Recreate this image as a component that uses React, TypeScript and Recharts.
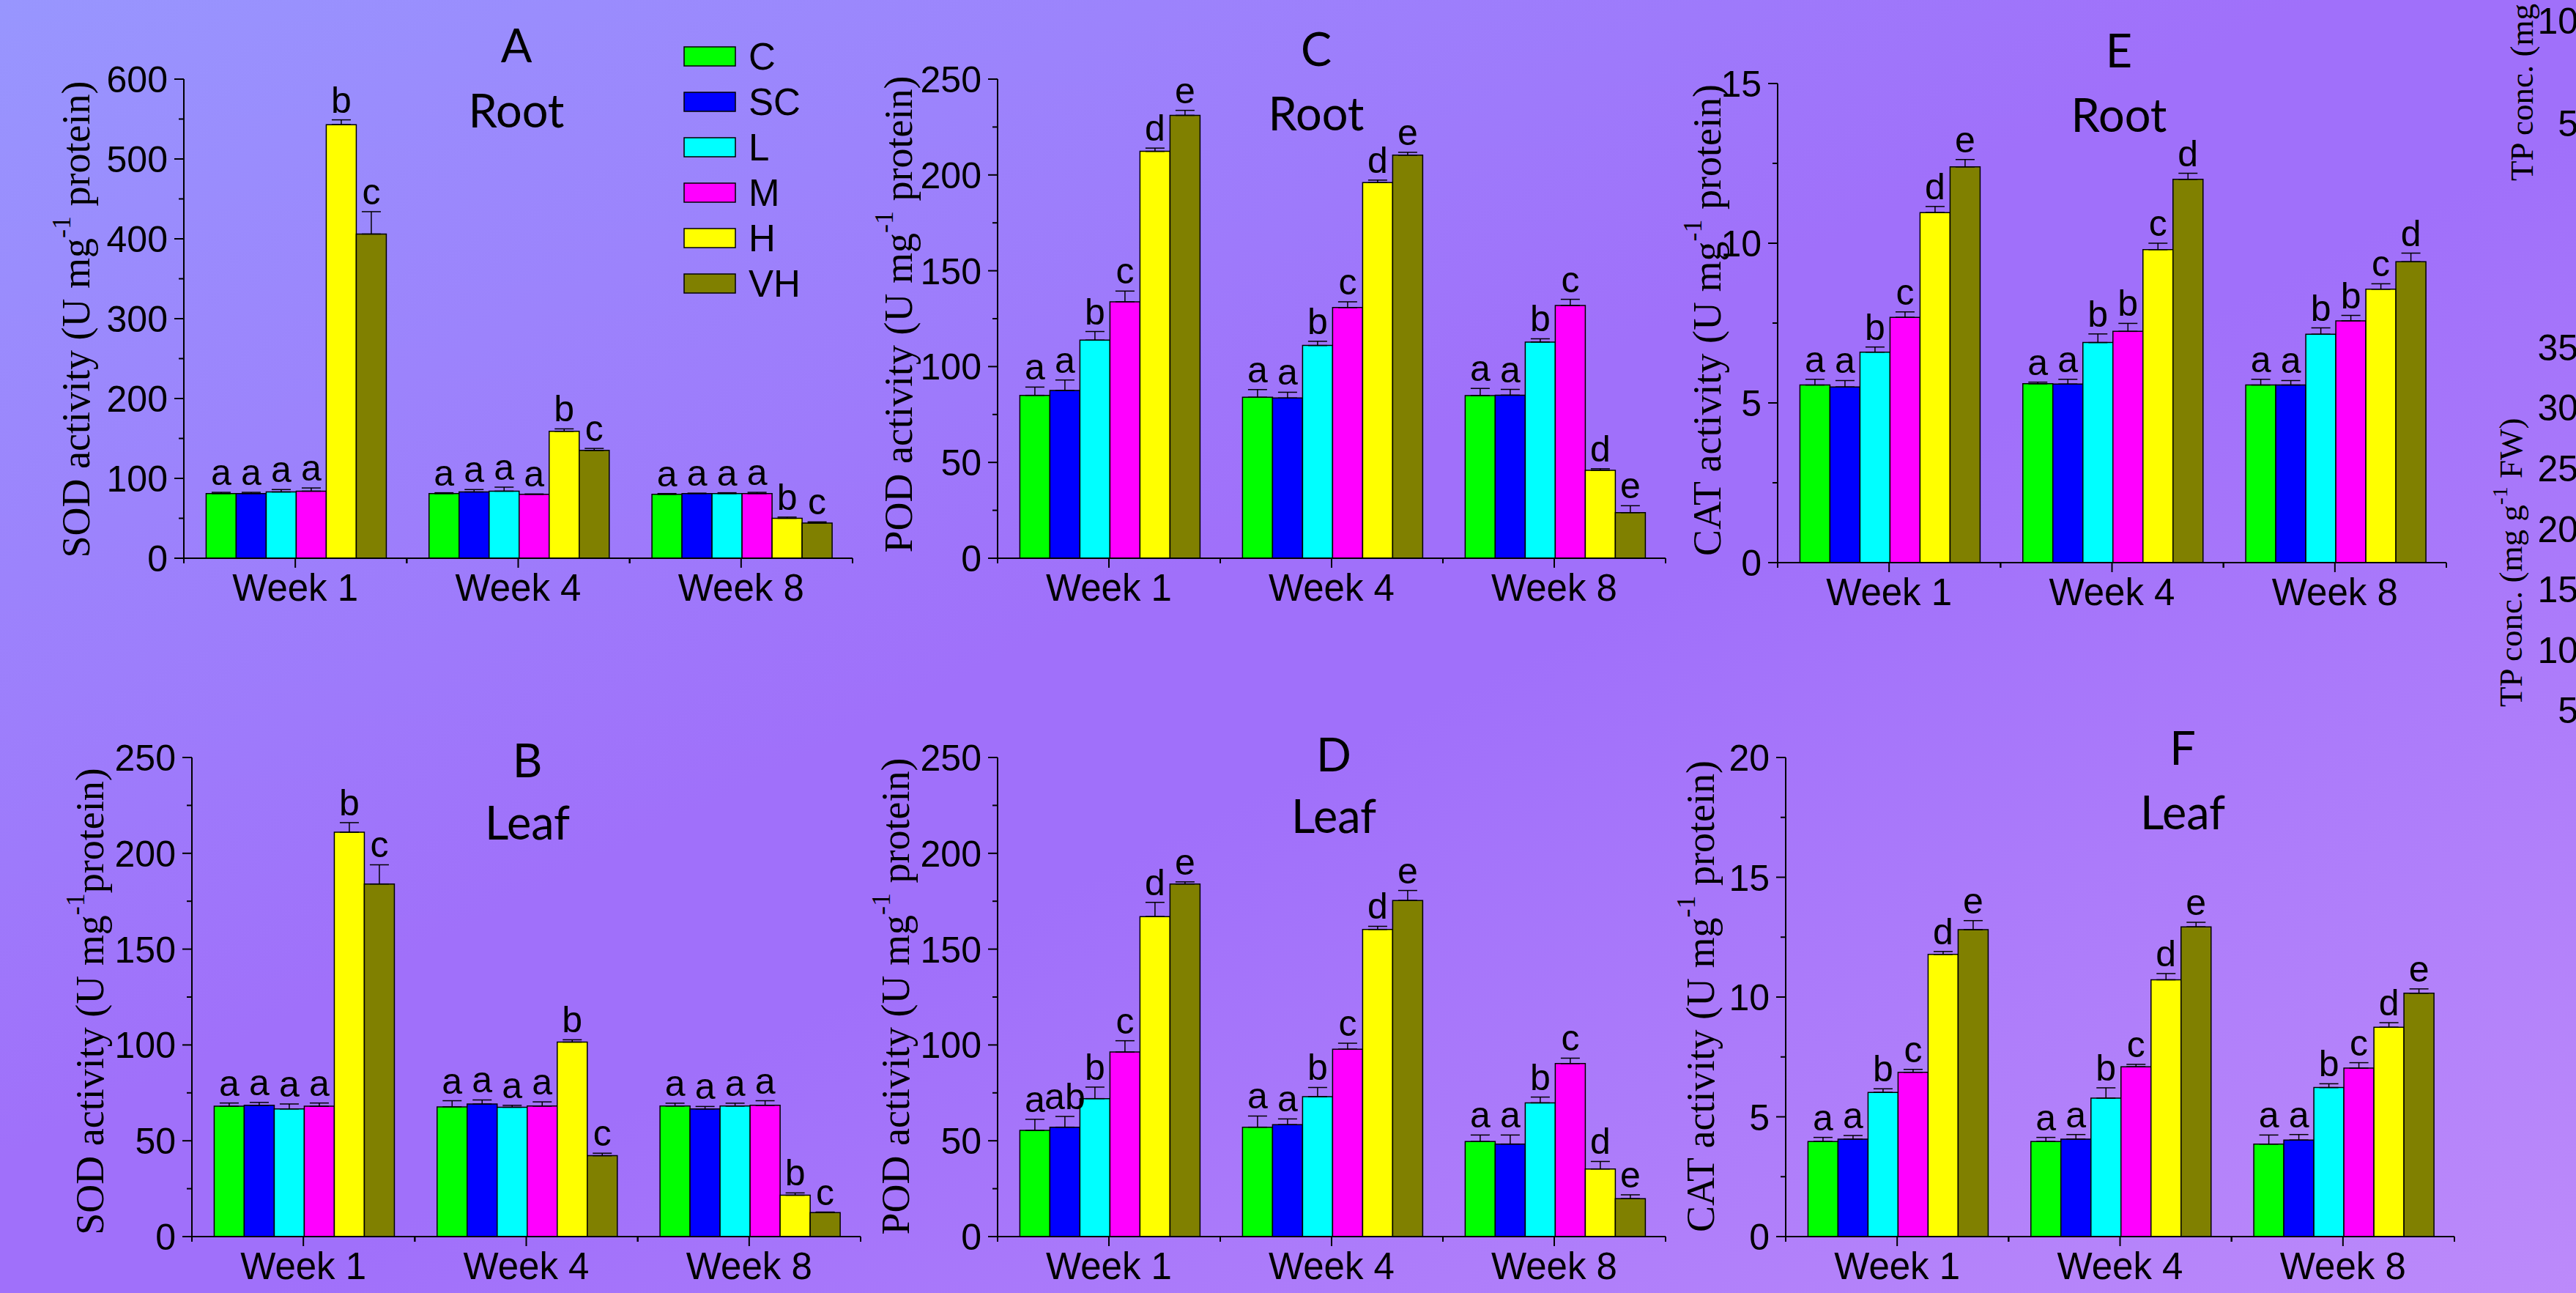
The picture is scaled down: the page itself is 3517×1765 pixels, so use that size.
import React from "react";
import { BarChart, Bar, XAxis, YAxis, ErrorBar, LabelList } from "recharts";

const WEEKS = ["Week 1", "Week 4", "Week 8"];
const TREATMENTS = ["C", "SC", "L", "M", "H", "VH"];
const COLORS = ["#00ff00", "#0000ff", "#00ffff", "#ff00ff", "#ffff00", "#808000"];

// A: SOD root
const sodRoot = [
  [81, 81, 83, 84, 543, 406],
  [81, 83, 84, 80, 159, 135],
  [80, 81, 81, 81, 50, 44],
];
const sodRootErr = [
  [1.5, 1.5, 3, 4, 6, 28],
  [1, 3, 5, 0.5, 3, 2.5],
  [1, 0.5, 1, 1.5, 1.5, 1.5],
];
const sodRootLetters = [
  ["a", "a", "a", "a", "b", "c"],
  ["a", "a", "a", "a", "b", "c"],
  ["a", "a", "a", "a", "b", "c"],
];

// B: SOD leaf
const sodLeaf = [
  [68, 68.5, 66.6, 68, 211, 184],
  [67.7, 69.2, 67.5, 68.1, 101.5, 42.2],
  [68.1, 66.6, 68.1, 68.5, 21.6, 12.5],
];
const sodLeafErr = [
  [1.7, 1.5, 2.6, 1.7, 5, 10],
  [3.2, 2.1, 1, 2.2, 1.2, 1.3],
  [1.5, 1.3, 1.5, 2.4, 1.2, 0.3],
];
const sodLeafLetters = sodRootLetters;

// C: POD root
const podRoot = [
  [85, 87.5, 113.8, 133.8, 212.3, 231.1],
  [84, 83.6, 111, 130.8, 196, 210.3],
  [84.9, 85.1, 112.8, 131.9, 45.9, 23.8],
];
const podRootErr = [
  [4.3, 5.5, 4.5, 5.6, 1.7, 2.6],
  [4, 3, 2.2, 3, 1.3, 1.5],
  [3.7, 3, 1.7, 3.2, 0.8, 3.6],
];
const podRootLetters = [
  ["a", "a", "b", "c", "d", "e"],
  ["a", "a", "b", "c", "d", "e"],
  ["a", "a", "b", "c", "d", "e"],
];

// D: POD leaf
const podLeaf = [
  [55.4, 57.1, 72, 96.3, 167, 184],
  [57.1, 58.4, 73, 97.8, 160.3, 175.4],
  [49.6, 48.3, 69.8, 90.3, 35.3, 19.8],
];
const podLeafErr = [
  [5.8, 5.6, 6, 5.9, 7.4, 1.1],
  [5.8, 3, 4.8, 3.1, 1.6, 5.2],
  [3.4, 4.7, 3, 2.8, 3.9, 2],
];
const podLeafLetters = [
  ["a", "ab", "b", "c", "d", "e"],
  ["a", "a", "b", "c", "d", "e"],
  ["a", "a", "b", "c", "d", "e"],
];

// E: CAT root
const catRoot = [
  [5.56, 5.5, 6.59, 7.68, 10.96, 12.39],
  [5.6, 5.59, 6.89, 7.24, 9.8, 12.0],
  [5.56, 5.56, 7.15, 7.57, 8.56, 9.42],
];
const catRootErr = [
  [0.18, 0.2, 0.16, 0.17, 0.19, 0.23],
  [0.05, 0.15, 0.27, 0.25, 0.2, 0.19],
  [0.18, 0.14, 0.2, 0.17, 0.17, 0.27],
];
const catRootLetters = [
  ["a", "a", "b", "c", "d", "e"],
  ["a", "a", "b", "b", "c", "d"],
  ["a", "a", "b", "b", "c", "d"],
];

// F: CAT leaf
const catLeaf = [
  [3.97, 4.07, 6.02, 6.86, 11.78, 12.81],
  [3.97, 4.07, 5.78, 7.09, 10.72, 12.93],
  [3.86, 4.03, 6.22, 7.03, 8.74, 10.16],
];
const catLeafErr = [
  [0.17, 0.15, 0.15, 0.12, 0.12, 0.38],
  [0.17, 0.19, 0.43, 0.1, 0.26, 0.19],
  [0.38, 0.23, 0.16, 0.23, 0.19, 0.18],
];
const catLeafLetters = podRootLetters;

// axis ticks
const ticks600 = [0, 100, 200, 300, 400, 500, 600];
const minor600 = [50, 150, 250, 350, 450, 550];
const ticks250 = [0, 50, 100, 150, 200, 250];
const minor250 = [25, 75, 125, 175, 225];
const ticks15 = [0, 5, 10, 15];
const minor15 = [2.5, 7.5, 12.5];
const ticks20 = [0, 5, 10, 15, 20];
const minor20 = [2.5, 7.5, 12.5, 17.5];

// cut-off TP panels at the right edge
const tpTopTicks = [5, 10];
const tpBottomTicks = [5, 10, 15, 20, 25, 30, 35];

const SANS = '"Liberation Sans", Arial, sans-serif';
const SERIF = '"Liberation Serif", "Times New Roman", serif';
const TITLE = 'Lato, "Open Sans", sans-serif';

const ML = 200;
const MT = 40;
const MR = 24;
const MB = 110;
const YW = 120;
const XH = 60;

function buildRows(vals: number[][], errs: number[][], letters: string[][]) {
  return WEEKS.map((w, i) => {
    const row: any = { week: w };
    TREATMENTS.forEach((t, j) => {
      row[t] = vals[i][j];
      row[t + "_err"] = [0, errs[i][j]];
      row[t + "_lab"] = letters[i][j];
    });
    return row;
  });
}

function Panel(props: {
  left: number;
  top: number;
  width: number;
  height: number;
  max: number;
  ticks: number[];
  minor: number[];
  rows: any[];
}) {
  const { left, top, width, height, max, ticks, minor, rows } = props;
  const axisY = MT + height;
  const band = width / WEEKS.length;
  const allTicks = [...ticks, ...minor].sort((a, b) => a - b);

  const yTick = (p: any) => {
    const v = p.payload.value;
    const major = ticks.includes(v);
    return (
      <g>
        <line x1={ML} x2={ML - (major ? 13 : 7)} y1={p.y} y2={p.y} stroke="#000" strokeWidth={2} />
        {major && (
          <text x={ML - 22} y={p.y} dy="0.36em" textAnchor="end" fontSize={50} fontFamily={SANS} fill="#000">
            {v}
          </text>
        )}
      </g>
    );
  };

  const xTick = (p: any) => (
    <g>
      <line x1={p.x} x2={p.x} y1={axisY} y2={axisY + 13} stroke="#000" strokeWidth={2} />
      <line x1={p.x - band / 2} x2={p.x - band / 2} y1={axisY} y2={axisY + 7} stroke="#000" strokeWidth={2} />
      <line x1={p.x + band / 2} x2={p.x + band / 2} y1={axisY} y2={axisY + 7} stroke="#000" strokeWidth={2} />
      <text x={p.x} y={axisY + 58} textAnchor="middle" fontSize={51} fontFamily={SANS} fill="#000">
        {p.payload.value}
      </text>
    </g>
  );

  const letter = (t: string) => (p: any) => {
    const row = rows[p.index];
    const v = row[t];
    const e = row[t + "_err"][1];
    const h = Number(p.height);
    const errPx = v ? (e * h) / v : 0;
    return (
      <text
        x={Number(p.x) + Number(p.width) / 2}
        y={Number(p.y) - errPx - 10}
        textAnchor="middle"
        fontSize={50}
        fontFamily={SANS}
        fill="#000"
      >
        {row[t + "_lab"]}
      </text>
    );
  };

  return (
    <div style={{ position: "absolute", left: left - ML, top: top - MT }}>
      <BarChart
        width={width + ML + MR}
        height={height + MT + MB}
        data={rows}
        margin={{ top: MT, right: MR, left: ML - YW, bottom: MB - XH }}
        barCategoryGap="10%"
        barGap={0}
      >
        <XAxis
          dataKey="week"
          height={XH}
          interval={0}
          tickLine={false}
          axisLine={{ stroke: "#000", strokeWidth: 2 }}
          tick={xTick}
        />
        <YAxis
          type="number"
          width={YW}
          domain={[0, max]}
          ticks={allTicks}
          interval={0}
          allowDataOverflow
          tickLine={false}
          axisLine={{ stroke: "#000", strokeWidth: 2 }}
          tick={yTick}
        />
        {TREATMENTS.map((t, j) => (
          <Bar key={t} dataKey={t} fill={COLORS[j]} stroke="#000" strokeWidth={1.5} isAnimationActive={false}>
            <ErrorBar dataKey={t + "_err"} width={13} stroke="#000" strokeWidth={1.5} direction="y" />
            <LabelList dataKey={t + "_lab"} content={letter(t)} />
          </Bar>
        ))}
      </BarChart>
    </div>
  );
}

// only the tick labels of these axes fall inside the picture
function SideAxis(props: { axisX: number; top: number; height: number; max: number; ticks: number[] }) {
  const { axisX, top, height, max, ticks } = props;
  const tick = (p: any) => (
    <text x={150 - 22} y={p.y} dy="0.36em" textAnchor="end" fontSize={50} fontFamily={SANS} fill="#000">
      {p.payload.value}
    </text>
  );
  return (
    <div style={{ position: "absolute", left: axisX - 150, top: top - 20 }}>
      <BarChart
        width={200}
        height={height + 40}
        data={[{ k: "", v: 0 }]}
        margin={{ top: 20, right: 50, left: 30, bottom: 20 }}
      >
        <XAxis dataKey="k" hide />
        <YAxis
          type="number"
          width={120}
          domain={[0, max]}
          ticks={ticks}
          interval={0}
          allowDataOverflow
          tickLine={false}
          axisLine={{ stroke: "#000", strokeWidth: 2 }}
          tick={tick}
        />
        <Bar dataKey="v" fill="none" isAnimationActive={false} />
      </BarChart>
    </div>
  );
}

function YLabel(props: { cx: number; cy: number; name: string; sep: string }) {
  const { cx, cy, name, sep } = props;
  return (
    <text
      x={cx}
      y={cy}
      transform={`rotate(-90 ${cx} ${cy})`}
      textAnchor="middle"
      dominantBaseline="central"
      fontSize={54}
      fontFamily={SERIF}
      fill="#000"
    >
      {name} (U mg
      <tspan dy={-20} fontSize={36}>
        -1
      </tspan>
      <tspan dy={20}>{sep}protein)</tspan>
    </text>
  );
}

function Title(props: { x: number; y: number; letter: string; part: string; gap: number }) {
  const { x, y, letter, part, gap } = props;
  return (
    <g fontFamily={TITLE} fontSize={63} fill="#000" textAnchor="middle">
      <text x={x} y={y + 23}>{letter}</text>
      <text x={x} y={y + gap + 23}>{part}</text>
    </g>
  );
}

function TpLabel(props: { x: number; y: number }) {
  const { x, y } = props;
  return (
    <text
      x={x}
      y={y}
      transform={`rotate(-90 ${x} ${y})`}
      dominantBaseline="central"
      fontSize={45}
      fontFamily={SERIF}
      fill="#000"
    >
      TP conc. (mg g
      <tspan dy={-16} fontSize={30}>
        -1
      </tspan>
      <tspan dy={16}> FW)</tspan>
    </text>
  );
}

export default function App() {
  const rowsA = buildRows(sodRoot, sodRootErr, sodRootLetters);
  const rowsB = buildRows(sodLeaf, sodLeafErr, sodLeafLetters);
  const rowsC = buildRows(podRoot, podRootErr, podRootLetters);
  const rowsD = buildRows(podLeaf, podLeafErr, podLeafLetters);
  const rowsE = buildRows(catRoot, catRootErr, catRootLetters);
  const rowsF = buildRows(catLeaf, catLeafErr, catLeafLetters);

  return (
    <div
      style={{
        position: "absolute",
        left: 0,
        top: 0,
        width: 3517,
        height: 1765,
        overflow: "hidden",
        background: "linear-gradient(to bottom right, #9896fe 0%, #a070fa 45%, #a070fa 55%, #bc8afa 100%)",
      }}
    >
      <Panel left={251} top={108} width={913} height={654} max={600} ticks={ticks600} minor={minor600} rows={rowsA} />
      <Panel left={1362} top={108} width={912} height={654} max={250} ticks={ticks250} minor={minor250} rows={rowsC} />
      <Panel left={2427} top={114} width={913} height={654} max={15} ticks={ticks15} minor={minor15} rows={rowsE} />
      <Panel left={262} top={1034} width={913} height={654} max={250} ticks={ticks250} minor={minor250} rows={rowsB} />
      <Panel left={1362} top={1034} width={912} height={654} max={250} ticks={ticks250} minor={minor250} rows={rowsD} />
      <Panel left={2438} top={1034} width={913} height={654} max={20} ticks={ticks20} minor={minor20} rows={rowsF} />

      <SideAxis axisX={3542} top={28} height={280} max={10} ticks={tpTopTicks} />
      <SideAxis axisX={3542} top={391} height={661} max={40} ticks={tpBottomTicks} />

      <svg
        width={3517}
        height={1765}
        style={{ position: "absolute", left: 0, top: 0, pointerEvents: "none" }}
      >
        <Title x={705} y={62} letter="A" part="Root" gap={89} />
        <Title x={1797} y={67} letter="C" part="Root" gap={88} />
        <Title x={2893} y={69} letter="E" part="Root" gap={88} />
        <Title x={720} y={1038} letter="B" part="Leaf" gap={85} />
        <Title x={1821} y={1030} letter="D" part="Leaf" gap={84} />
        <Title x={2980} y={1021} letter="F" part="Leaf" gap={88} />

        <YLabel cx={104} cy={436} name="SOD activity" sep=" " />
        <YLabel cx={123} cy={1367} name="SOD activity" sep="" />
        <YLabel cx={1227} cy={429} name="POD activity" sep=" " />
        <YLabel cx={1223} cy={1360} name="POD activity" sep=" " />
        <YLabel cx={2331} cy={437} name="CAT activity" sep=" " />
        <YLabel cx={2322} cy={1360} name="CAT activity" sep=" " />

        {TREATMENTS.map((t, j) => (
          <g key={t}>
            <rect x={934} y={64 + j * 62} width={70} height={26} fill={COLORS[j]} stroke="#000" strokeWidth={1.5} />
            <text x={1022} y={77 + j * 62} dy="0.36em" fontSize={51} fontFamily={SANS} fill="#000">
              {t}
            </text>
          </g>
        ))}

        <TpLabel x={3443} y={247} />
        <TpLabel x={3428} y={965} />
      </svg>
    </div>
  );
}
